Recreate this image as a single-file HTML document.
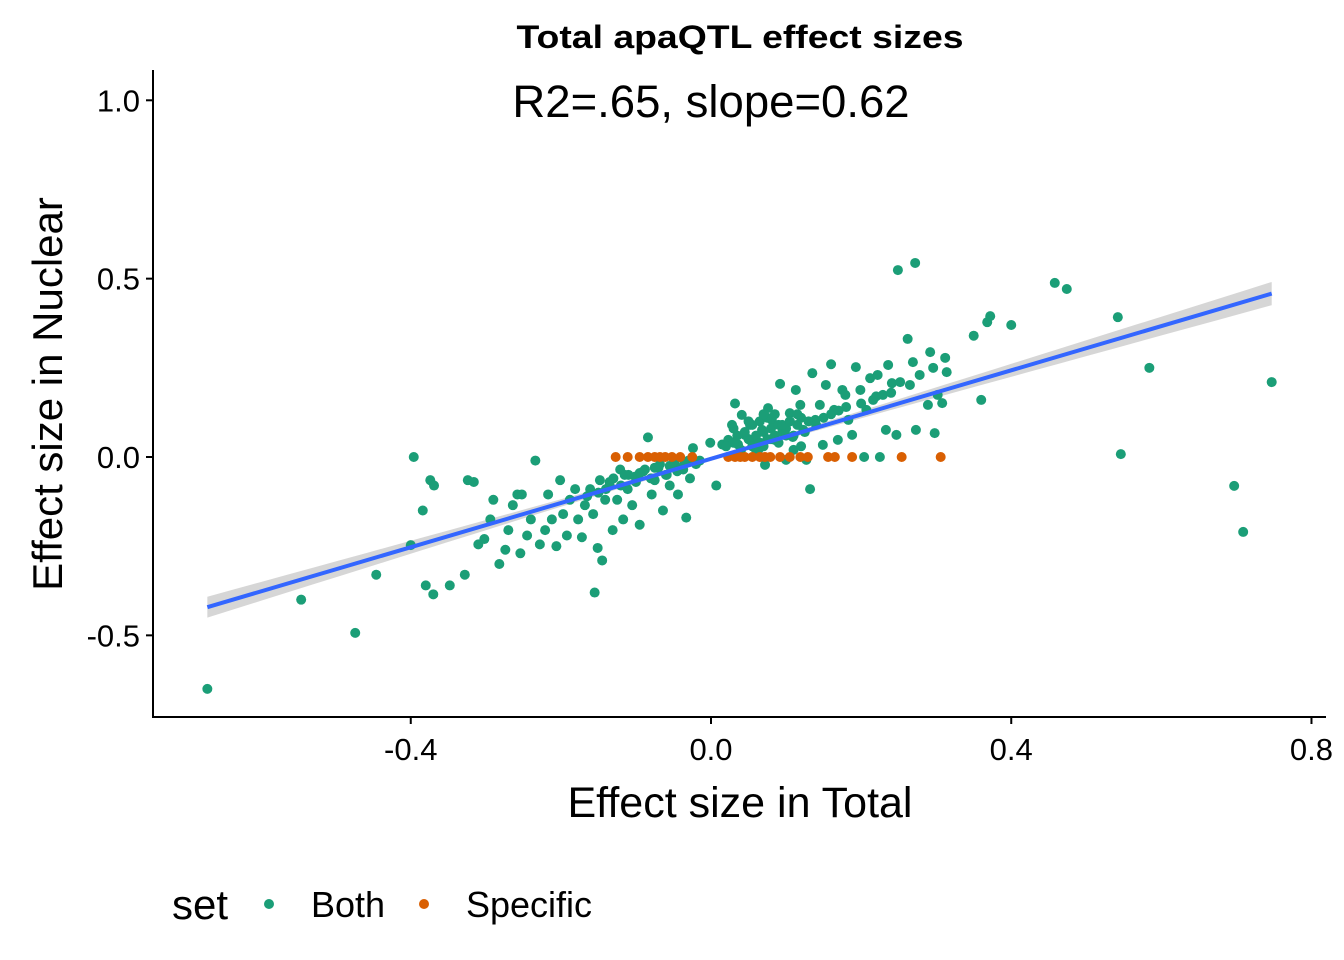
<!DOCTYPE html>
<html><head><meta charset="utf-8"><style>
body{margin:0;background:#fff;}
svg{display:block;font-family:"Liberation Sans",sans-serif;}
</style></head><body>
<svg id="chart" width="1344" height="960">
<text x="740" y="48" text-anchor="middle" font-size="32" font-weight="bold" textLength="447" lengthAdjust="spacingAndGlyphs">Total apaQTL effect sizes</text>
<g id="ribbon"></g><g id="pts"></g><g id="reg"></g>
<text x="711" y="117" text-anchor="middle" font-size="45.5">R2=.65, slope=0.62</text>
<line x1="153" y1="70" x2="153" y2="718" stroke="#000" stroke-width="2"/>
<line x1="152" y1="717" x2="1326" y2="717" stroke="#000" stroke-width="2"/>
<g id="axes"></g>
<text x="740" y="817" text-anchor="middle" font-size="43">Effect size in Total</text>
<text transform="translate(62,394) rotate(-90)" text-anchor="middle" font-size="42">Effect size in Nuclear</text>
<g>
<text x="172" y="919" font-size="42">set</text>
<circle cx="269" cy="904" r="5" fill="#1b9e77"/>
<text x="311" y="917" font-size="36">Both</text>
<circle cx="424" cy="904" r="5" fill="#d95f02"/>
<text x="466" y="917" font-size="36">Specific</text>
</g>
</svg>
<script>
const xTicks=[-0.4,0.0,0.4,0.8];
const xTickLabels=["-0.4","0.0","0.4","0.8"];
const yTicks=[-0.5,0.0,0.5,1.0];
const yTickLabels=["-0.5","0.0","0.5","1.0"];
const bothX=[-0.671,-0.546,-0.474,-0.446,-0.40,-0.396,-0.384,-0.38,-0.374,-0.37,-0.369,-0.348,-0.328,-0.324,-0.316,-0.31,-0.302,-0.294,-0.29,-0.282,-0.274,-0.27,-0.264,-0.258,-0.254,-0.252,-0.245,-0.24,-0.234,-0.228,-0.221,-0.217,-0.212,-0.206,-0.201,-0.197,-0.192,-0.188,-0.181,-0.177,-0.172,-0.168,-0.161,-0.157,-0.155,-0.151,-0.148,-0.145,-0.141,-0.135,-0.131,-0.125,-0.121,-0.117,-0.111,-0.105,-0.101,-0.095,-0.088,-0.084,-0.079,-0.075,-0.068,-0.064,-0.059,-0.055,-0.048,-0.044,-0.037,-0.033,-0.028,-0.024,-0.015,-0.001,0.007,0.015,0.023,0.028,0.032,0.036,0.041,0.045,0.052,0.059,0.063,0.068,0.072,0.076,0.081,0.085,0.092,0.096,0.1,0.105,0.109,0.113,0.119,0.123,0.127,0.132,0.135,0.139,0.145,0.149,0.153,0.16,0.164,0.169,0.175,0.179,0.183,0.188,0.193,0.199,0.204,0.207,0.212,0.216,0.222,0.225,0.229,0.233,0.236,0.241,0.247,0.249,0.252,0.262,0.265,0.269,0.272,0.273,0.278,0.289,0.292,0.296,0.298,0.302,0.308,0.312,0.314,0.35,0.36,0.368,0.372,0.40,0.458,0.474,0.542,0.546,0.584,0.697,0.709,0.747,
-0.14,-0.13,-0.12,-0.11,-0.1,-0.09,-0.08,-0.07,-0.06,-0.05,-0.04,-0.03,-0.02,-0.165,-0.15,-0.135,-0.115,-0.095,-0.075,-0.055,-0.045,-0.035,
0.02,0.03,0.04,0.05,0.055,0.06,0.065,0.07,0.075,0.08,0.085,0.09,0.095,0.1,0.105,0.11,0.115,0.12,0.125,0.13,0.035,0.045,0.055,0.065,0.075,0.085,0.095,0.105,0.115,0.06,0.07,0.08,0.09,0.1,0.11,0.12,0.14,0.15,0.16,0.17,0.18,0.2,0.22,0.24,0.03,0.05,0.07];
const bothY=[-0.65,-0.40,-0.493,-0.33,-0.247,0.0,-0.15,-0.36,-0.065,-0.385,-0.08,-0.36,-0.33,-0.065,-0.07,-0.245,-0.23,-0.175,-0.12,-0.30,-0.26,-0.205,-0.135,-0.105,-0.27,-0.105,-0.22,-0.175,-0.01,-0.245,-0.205,-0.105,-0.175,-0.25,-0.065,-0.16,-0.22,-0.12,-0.09,-0.175,-0.225,-0.135,-0.09,-0.16,-0.38,-0.255,-0.065,-0.29,-0.12,-0.08,-0.205,-0.12,-0.035,-0.175,-0.09,-0.135,-0.055,-0.19,-0.035,0.055,-0.105,-0.065,-0.02,-0.15,-0.05,-0.08,-0.01,-0.105,-0.035,-0.17,-0.06,0.025,-0.01,0.04,-0.08,0.035,0.048,0.09,0.15,0.035,0.118,0.062,0.09,0.048,0.02,0.076,-0.022,0.137,0.104,0.048,0.205,0.076,-0.008,0.123,0.056,0.188,0.146,0.076,-0.008,-0.09,0.235,0.104,0.146,0.034,0.202,0.26,0.132,0.048,0.188,0.174,0.104,0.062,0.252,0.188,0.0,0.132,0.221,0.16,0.23,0.0,0.174,0.076,0.258,0.207,0.062,0.524,0.21,0.331,0.202,0.266,0.544,0.076,0.23,0.146,0.294,0.25,0.067,0.174,0.151,0.278,0.238,0.34,0.16,0.378,0.395,0.37,0.488,0.471,0.392,0.008,0.25,-0.081,-0.21,0.21,
-0.09,-0.06,-0.08,-0.05,-0.07,-0.04,-0.06,-0.03,-0.05,-0.02,-0.03,-0.01,-0.02,-0.11,-0.1,-0.07,-0.05,-0.045,-0.03,-0.025,-0.04,-0.015,
0.03,0.04,0.02,0.05,0.03,0.06,0.04,0.07,0.05,0.08,0.06,0.09,0.07,0.08,0.1,0.06,0.09,0.11,0.07,0.1,0.06,0.07,0.09,0.1,0.11,0.12,0.09,0.1,0.12,0.02,0.03,0.05,0.04,0.06,0.02,0.03,0.09,0.11,0.12,0.13,0.14,0.15,0.17,0.18,0.08,0.1,0.12];
const specX=[-0.127,-0.111,-0.095,-0.084,-0.075,-0.068,-0.061,-0.052,-0.041,-0.025,0.023,0.032,0.039,0.045,0.055,0.065,0.072,0.079,0.092,0.105,0.119,0.129,0.156,0.165,0.188,0.254,0.306];
const specY=[0,0,0,0,0,0,0,0,0,0,0,0,0,0,0,0,0,0,0,0,0,0,0,0,0,0,0];
const fitIntercept=-0.005, fitSlope=0.62, fitXmin=-0.671, fitXmax=0.747;
const NS='http://www.w3.org/2000/svg';
const sx=v=>711+v*750.6, sy=v=>457-v*356.7;
function mk(t,a,p){const e=document.createElementNS(NS,t);for(const k in a)e.setAttribute(k,a[k]);p.appendChild(e);return e;}
const ax=document.getElementById('axes');
xTicks.forEach((t,i)=>{const l=mk('line',{x1:sx(t),x2:sx(t),y1:717,y2:724,stroke:'#000','stroke-width':2},ax);


const tx=mk('text',{x:sx(t),y:760,'text-anchor':'middle','font-size':31},ax);tx.textContent=xTickLabels[i];

});
yTicks.forEach((t,i)=>{const l=mk('line',{x1:146,x2:153,y1:sy(t),y2:sy(t),stroke:'#000','stroke-width':2},ax);


const tx=mk('text',{x:140,y:sy(t)+11,'text-anchor':'end','font-size':31},ax);tx.textContent=yTickLabels[i];

});
const pg=document.getElementById('pts');
bothX.forEach((x,i)=>{const c=mk('circle',{cx:sx(x),cy:sy(bothY[i]),r:5,fill:'#1b9e77'},pg);

});
specX.forEach((x,i)=>{const c=mk('circle',{cx:sx(x),cy:sy(specY[i]),r:5,fill:'#d95f02'},pg);

});
const f=x=>fitIntercept+fitSlope*x;
const hw=x=>Math.sqrt(0.006*0.006+Math.pow(0.03*x/0.7,2));
let up=[],dn=[];
for(let k=0;k<=40;k++){const x=fitXmin+(fitXmax-fitXmin)*k/40;up.push(sx(x)+','+sy(f(x)+hw(x)));dn.unshift(sx(x)+','+sy(f(x)-hw(x)));}
const rb=mk('polygon',{points:up.concat(dn).join(' '),fill:'#999','fill-opacity':0.4},document.getElementById('ribbon'));


const rl=mk('line',{x1:sx(fitXmin),y1:sy(f(fitXmin)),x2:sx(fitXmax),y2:sy(f(fitXmax)),stroke:'#3366ff','stroke-width':4},document.getElementById('reg'));


</script>
</body></html>
